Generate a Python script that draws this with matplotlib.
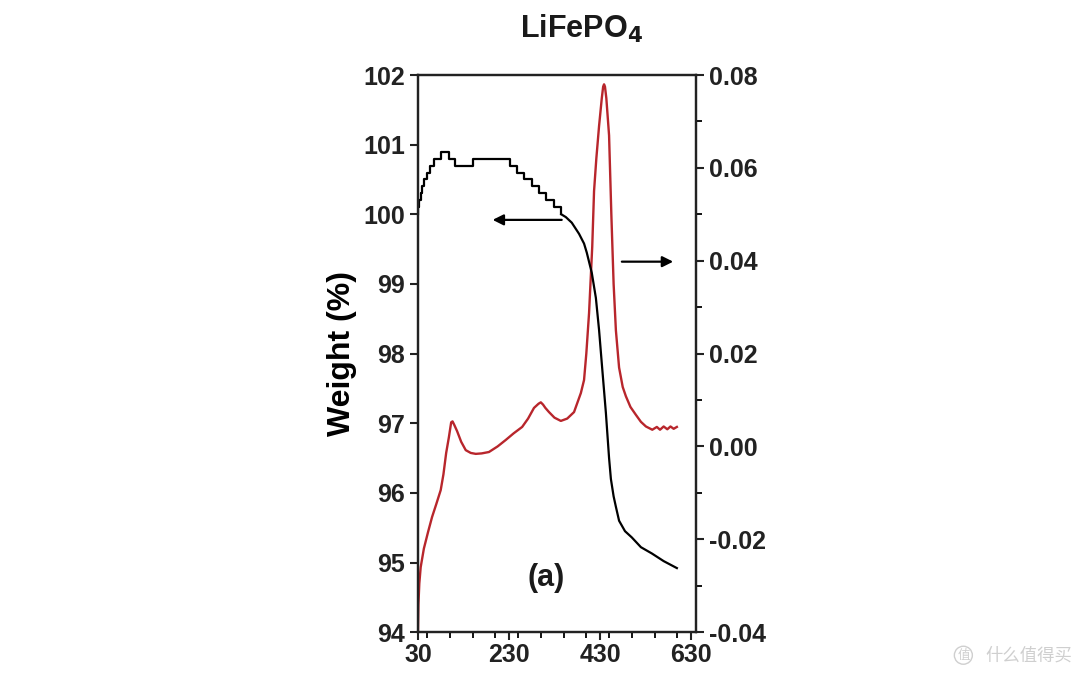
import matplotlib.pyplot as plt
from matplotlib.ticker import MultipleLocator, NullLocator

plt.rcParams['font.family'] = ['Liberation Sans', 'DejaVu Sans']
plt.rcParams['font.weight'] = 'bold'

# TG weight curve, stair part (instrument resolution 0.1 %)
T_step = [30, 31, 33, 36, 39, 43, 49, 56, 66, 80, 98, 112, 150, 232, 248, 264, 280, 296, 312, 328, 345]
W_step = [100.0, 100.1, 100.2, 100.3, 100.4, 100.5, 100.6, 100.7, 100.8, 100.9,
          100.8, 100.7, 100.8, 100.7, 100.6, 100.5, 100.4, 100.3, 100.2, 100.1, 100.0]
# TG weight curve, smooth part
T_smooth = [345, 355, 368, 384, 395, 401, 412, 421, 428, 434, 443, 450, 454, 460,
            465, 472, 485, 500, 520, 544, 570, 599]
W_smooth = [100.0, 99.96, 99.88, 99.72, 99.58, 99.45, 99.16, 98.8, 98.34, 97.86, 97.15,
            96.5, 96.2, 95.95, 95.8, 95.6, 95.45, 95.36, 95.22, 95.13, 95.02, 94.92]

# DTA curve (right axis)
T_dta = [30, 31, 33, 36, 43, 52, 61, 70, 80, 86, 92, 98, 103, 106, 110, 116, 125, 135, 146, 157,
         170, 186, 205, 223, 240, 259, 272, 285, 295, 300, 305, 310, 318, 330, 344, 358, 373, 388,
         395, 400, 406, 413, 417, 422, 428, 434, 437, 439, 441, 444, 450, 455, 460, 465, 472, 480,
         487, 497, 509, 520, 531, 545, 555, 562, 570, 578, 585, 592, 599]
V_dta = [-0.04, -0.034, -0.0295, -0.026, -0.022, -0.0185, -0.0152, -0.0125, -0.0094, -0.006, -0.0014,
         0.002, 0.0052, 0.0054, 0.0046, 0.0033, 0.001, -0.0008, -0.0014, -0.0016, -0.0015, -0.0012,
         0.0, 0.0014, 0.0028, 0.0042, 0.006, 0.0083, 0.0092, 0.0095, 0.009, 0.0083, 0.0074, 0.0062, 0.0055,
         0.006, 0.0074, 0.0115, 0.0143, 0.02, 0.0287, 0.043, 0.055, 0.062, 0.069, 0.075,
         0.0775, 0.078, 0.0775, 0.075, 0.067, 0.05, 0.035, 0.025, 0.017, 0.0128, 0.0108, 0.0085, 0.0068,
         0.0053, 0.0043, 0.0036, 0.0042, 0.0036, 0.0043, 0.0037, 0.0043, 0.0038, 0.0042]

x_ticks = [30, 230, 430, 630]
w_ticks = [94, 95, 96, 97, 98, 99, 100, 101, 102]
d_ticks = [-0.04, -0.02, 0.00, 0.02, 0.04, 0.06, 0.08]

fig = plt.figure(figsize=(10.8, 6.79), dpi=100)
ax = fig.add_axes([0.387, 0.069, 0.257, 0.8205])
ax2 = ax.twinx()

for a in (ax, ax2):
    for s in a.spines.values():
        s.set_linewidth(1.6)
        s.set_color('#222222')

ax2.plot(T_dta, V_dta, color='#b8262c', linewidth=1.7)
ax.plot(T_step, W_step, color='black', linewidth=1.6, drawstyle='steps-post')
ax.plot(T_smooth, W_smooth, color='black', linewidth=1.6)
ax.set_zorder(ax2.get_zorder() + 1)
ax.patch.set_visible(False)

ax.set_xlim(30, 640)
ax.set_ylim(94, 102)
ax2.set_ylim(-0.04, 0.08)
ax.set_xticks(x_ticks)
ax.set_xticklabels([str(t) for t in x_ticks])
ax.xaxis.set_minor_locator(MultipleLocator(50))
ax.set_yticks(w_ticks)
ax.yaxis.set_minor_locator(NullLocator())
ax2.set_yticks(d_ticks)
ax2.set_yticklabels(['%.2f' % v for v in d_ticks])
ax2.yaxis.set_minor_locator(MultipleLocator(0.01))

ax.tick_params(axis='both', which='major', direction='out', length=6, width=1.5,
               labelsize=18, colors='#222222')
ax.tick_params(axis='x', which='minor', direction='out', length=4, width=1.3)
ax.tick_params(axis='x', pad=2)
ax2.tick_params(axis='y', which='major', direction='out', length=6, width=1.5,
                labelsize=18, colors='#222222')
ax2.tick_params(axis='y', which='minor', direction='out', length=4, width=1.3)

ax.set_ylabel('Weight (%)', fontsize=23, fontweight='bold', labelpad=4)
fig.text(0.538, 0.957, 'LiFePO$_\\mathbf{4}$', ha='center', va='center',
         fontsize=22, fontweight='bold', color='#1a1a1a')

# arrows pointing to the axis of each curve
ax.annotate('', xy=(188, 99.92), xytext=(352, 99.92),
            arrowprops=dict(arrowstyle='-|>', color='black', lw=1.6, mutation_scale=16))
ax.annotate('', xy=(597, 99.32), xytext=(472, 99.32),
            arrowprops=dict(arrowstyle='-|>', color='black', lw=1.6, mutation_scale=16))

ax.text(311, 94.78, '(a)', ha='center', va='center', fontsize=22, fontweight='bold',
        color='#1a1a1a')

# watermark
fig.text(0.892, 0.035, '值', ha='center', va='center', fontsize=9, color='#cfcfcf',
         family=['Noto Sans CJK SC'], fontweight='normal',
         bbox=dict(boxstyle='circle,pad=0.2', fc='none', ec='#cfcfcf', lw=1))
fig.text(0.953, 0.035, '什么值得买', ha='center', va='center', fontsize=12.5,
         color='#cfcfcf', family=['Noto Sans CJK SC'], fontweight='normal')

plt.savefig('out.png', dpi=100)
